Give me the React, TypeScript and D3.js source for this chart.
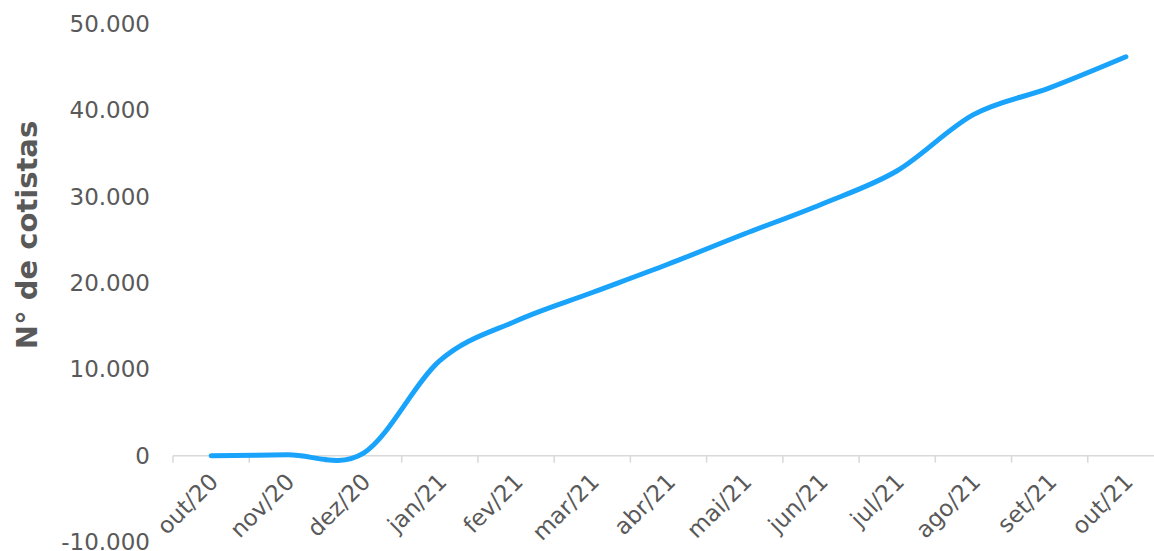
import React from "react";
import * as d3 from "d3";

// Monthly number of shareholders (cotistas)
const months = [
  "out/20", "nov/20", "dez/20", "jan/21", "fev/21", "mar/21", "abr/21",
  "mai/21", "jun/21", "jul/21", "ago/21", "set/21", "out/21",
];
const cotistas = [
  0, 100, 300, 11000, 15600, 18900, 22200, 25700, 29100, 33000, 39500, 42600, 46200,
];
const yTicks = [-10000, 0, 10000, 20000, 30000, 40000, 50000];

const W = 1154;
const H = 551;
const plotLeft = 173;
const plotRight = 1164;
const yTop = 24;
const yBottom = 542;

const fmt = (v: number) =>
  v.toLocaleString("pt-BR", { maximumFractionDigits: 0 }).replace(/,/g, ".");

export default function App() {
  const x = d3.scaleBand<string>().domain(months).range([plotLeft, plotRight]);
  const y = d3.scaleLinear().domain([-10000, 50000]).range([yBottom, yTop]);
  const cx = (m: string) => (x(m) ?? 0) + x.bandwidth() / 2;

  const line = d3
    .line<number>()
    .x((_, i) => cx(months[i]))
    .y((d) => y(d))
    .curve(d3.curveCatmullRom.alpha(0));

  const y0 = y(0);
  const boundaries = months.map((m) => x(m) ?? 0).concat([plotRight]);
  const font = "'DejaVu Sans', sans-serif";
  const textColor = "#595959";

  return (
    <svg
      width={W}
      height={H}
      style={{ position: "absolute", left: 0, top: 0, background: "#fff" }}
    >
      {/* category axis */}
      <line x1={plotLeft} x2={plotRight} y1={y0} y2={y0} stroke="#d9d9d9" strokeWidth={1.5} />
      {boundaries.map((bx, i) => (
        <line key={i} x1={bx} x2={bx} y1={y0} y2={y0 + 7} stroke="#d9d9d9" strokeWidth={1.5} />
      ))}

      {/* value axis labels */}
      {yTicks.map((t) => (
        <text
          key={t}
          x={150}
          y={y(t)}
          dy="0.35em"
          textAnchor="end"
          fontFamily={font}
          fontSize={23}
          fill={textColor}
        >
          {fmt(t)}
        </text>
      ))}

      {/* month labels */}
      {months.map((m) => (
        <text
          key={m}
          transform={`translate(${cx(m) - 3},${y0 + 16}) rotate(-45)`}
          dy="0.7em"
          textAnchor="end"
          fontFamily={font}
          fontSize={23}
          fill={textColor}
        >
          {m}
        </text>
      ))}

      {/* axis title */}
      <text
        transform={`translate(37,235) rotate(-90)`}
        textAnchor="middle"
        fontFamily={font}
        fontSize={29}
        fontWeight="bold"
        fill={textColor}
      >
        N° de cotistas
      </text>

      <path
        d={line(cotistas) ?? ""}
        fill="none"
        stroke="#1aa3fb"
        strokeWidth={5}
        strokeLinecap="round"
        strokeLinejoin="round"
      />
    </svg>
  );
}
